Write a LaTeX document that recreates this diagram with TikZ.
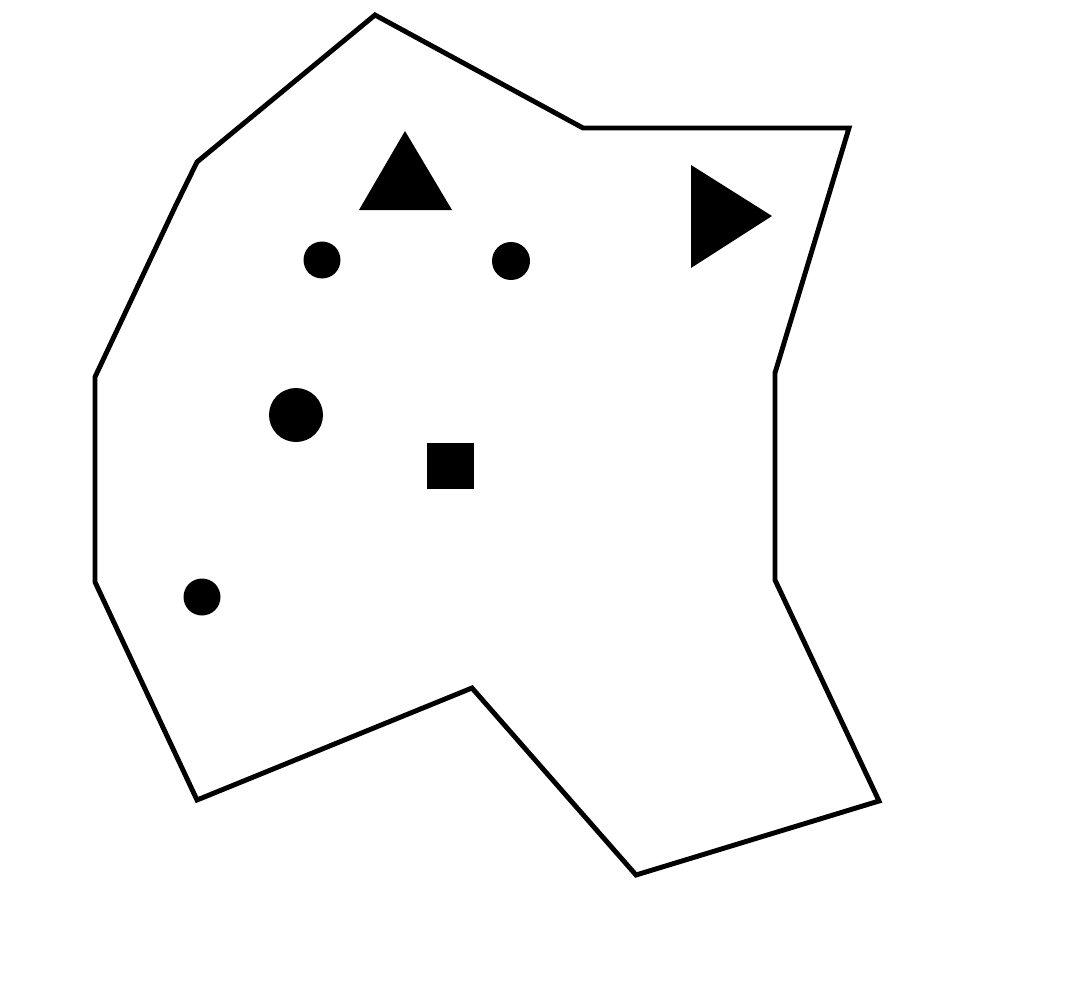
\documentclass[tikz,border=0pt]{standalone}
\begin{document}
\begin{tikzpicture}[x=0.02cm, y=-0.02cm, line join=miter,
  outline/.style={draw, line width=2.8pt},
  solid blob/.style={fill=black}]
  \useasboundingbox (0,0) rectangle (1080,1004);
  % outer region
  \draw[outline] (375,15) -- (583,128) -- (849,128) -- (775,373) -- (775,580)
    -- (879,801) -- (636,875) -- (472,688) -- (197,800) -- (95,582)
    -- (95,377) -- (175,207) -- (197,162) -- cycle;
  % triangles
  \fill[solid blob] (405,131) -- (452,210) -- (359,210) -- cycle;
  \fill[solid blob] (691,165) -- (772,216) -- (691,268) -- cycle;
  % dots
  \fill[solid blob] (322,260) circle (18.5);
  \fill[solid blob] (511,261) circle (19);
  \fill[solid blob] (202,597) circle (18.5);
  \fill[solid blob] (296,415) circle (27);
  % square
  \fill[solid blob] (427,443) rectangle (474,489);
\end{tikzpicture}
\end{document}
